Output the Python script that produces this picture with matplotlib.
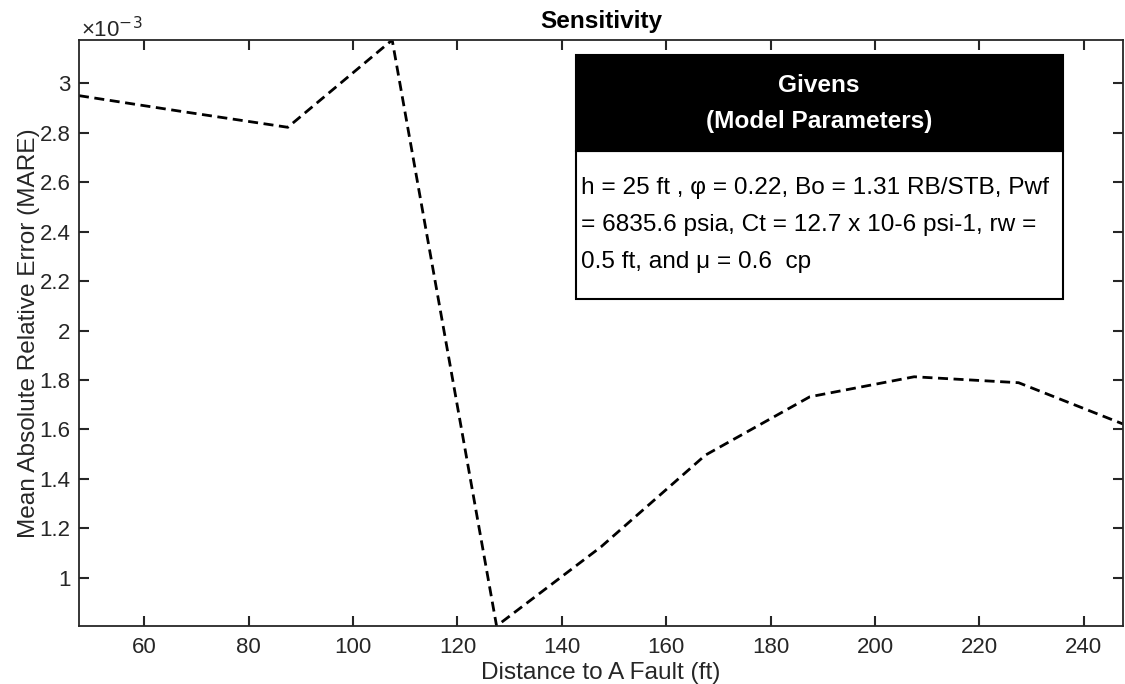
import matplotlib
matplotlib.use("Agg")
import matplotlib.pyplot as plt
from matplotlib.ticker import FuncFormatter
from matplotlib.patches import Rectangle

# data (MARE in units of 1e-3)
distance = [47.5, 67.5, 87.5, 107.5, 127.5, 147.5, 167.5, 187.5, 207.5, 227.5, 247.5]
mare_e3 = [2.950, 2.885, 2.822, 3.175, 0.805, 1.125, 1.496, 1.732, 1.813, 1.789, 1.622]

x_ticks = [60, 80, 100, 120, 140, 160, 180, 200, 220, 240]
y_ticks = [1, 1.2, 1.4, 1.6, 1.8, 2, 2.2, 2.4, 2.6, 2.8, 3]

header_lines = ["Givens", "(Model Parameters)"]
body_lines = ["h = 25 ft , \u03c6 = 0.22, Bo = 1.31 RB/STB, Pwf",
              "= 6835.6 psia, Ct = 12.7 x 10-6 psi-1, rw =",
              "0.5 ft, and \u03bc = 0.6  cp"]

plt.rcParams['font.family'] = ['Liberation Sans', 'DejaVu Sans']
grey = '#262626'

fig = plt.figure(figsize=(11.25, 6.84), dpi=100)
ax = fig.add_axes([0.0702, 0.0848, 0.928, 0.8567])

ax.plot(distance, mare_e3, color='black', linewidth=2.0, linestyle='--', dashes=(3.6, 2.0))

ax.set_xlim(min(distance), max(distance))
ax.set_ylim(min(mare_e3), max(mare_e3))
ax.set_xticks(x_ticks)
ax.set_yticks(y_ticks)
ax.yaxis.set_major_formatter(FuncFormatter(lambda v, p: '%g' % v))

ax.tick_params(direction='in', length=7, width=1.5, colors=grey, labelsize=16,
               top=True, right=True, labelcolor=grey)
ax.tick_params(axis='x', pad=8)
ax.tick_params(axis='y', pad=6)
for s in ax.spines.values():
    s.set_color(grey)
    s.set_linewidth(1.3)

ax.set_xlabel("Distance to A Fault (ft)", fontsize=17.6, color=grey, labelpad=3)
ax.set_ylabel("Mean Absolute Relative Error (MARE)", fontsize=17.6, color=grey, labelpad=0)
ax.set_title("Sensitivity", fontsize=17.6, fontweight='bold', pad=9)
ax.text(0.002, 0.997, "\u00d710$^{-3}$", transform=ax.transAxes, fontsize=16,
        color=grey, ha='left', va='bottom')

# givens box
ax.add_patch(Rectangle((0.476, 0.558), 0.4665, 0.2526, transform=ax.transAxes,
                       facecolor='white', edgecolor='black', linewidth=1.5, zorder=5))
ax.add_patch(Rectangle((0.476, 0.8106), 0.4665, 0.1634, transform=ax.transAxes,
                       facecolor='black', edgecolor='black', linewidth=1.5, zorder=5))
for yy, t in zip([0.923, 0.8606], header_lines):
    ax.text(0.709, yy, t, transform=ax.transAxes, color='white', fontsize=17.6,
            fontweight='bold', ha='center', va='center', zorder=6)
for yy, t in zip([0.747, 0.684, 0.6217], body_lines):
    ax.text(0.481, yy, t, transform=ax.transAxes, color='black', fontsize=17.6,
            ha='left', va='center', zorder=6)

fig.savefig("out.png", dpi=100)
